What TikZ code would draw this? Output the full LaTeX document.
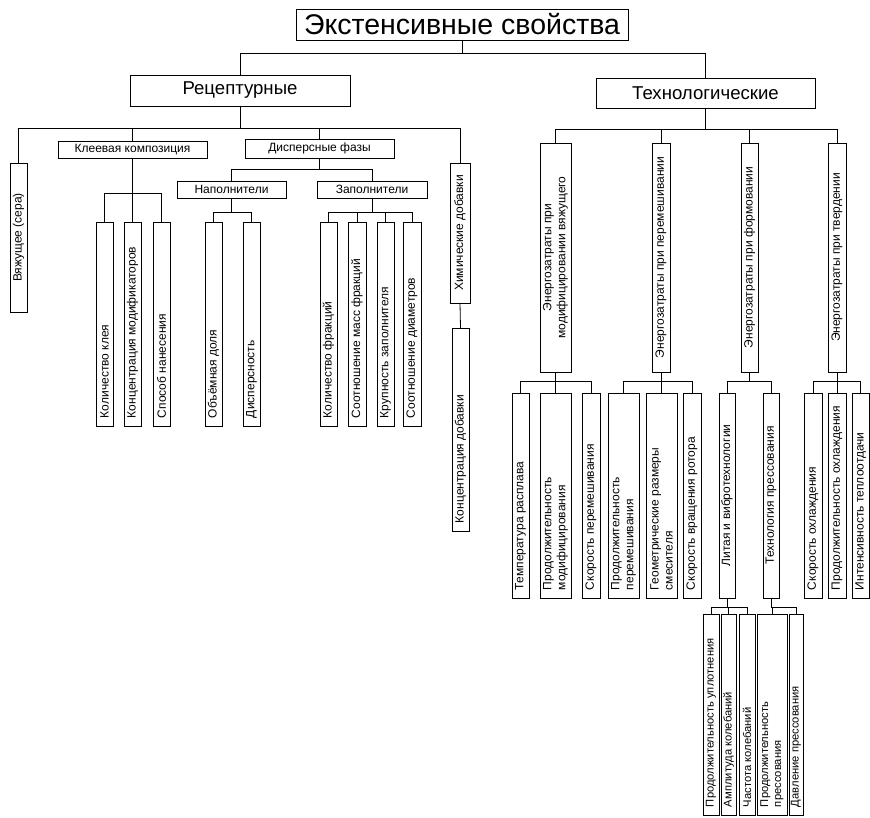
\documentclass[tikz,border=0pt]{standalone}
\usepackage{fontspec}
\setmainfont{Liberation Sans}
\usepackage{graphicx}
\newcommand{\fsS}{\fontsize{12}{14}\selectfont}
\newcommand{\fsT}{\fontsize{11.2}{13}\selectfont}
\newcommand{\bl}{\raggedright\leftskip=4pt\relax}
\newcommand{\ce}{\centering}
\newcommand{\nodeH}[7]{% name x1 y1 x2 y2 font text
  \node[bx,minimum width={(#4-#2)*1pt},minimum height={(#5-#3)*1pt}] (#1) at ({(#2+#4)/2},{(#3+#5)/2}) {#6#7};}
\newcommand{\nodeV}[8]{% name x1 y1 x2 y2 font align text
  \node[bx,minimum width={(#4-#2)*1pt},minimum height={(#5-#3)*1pt}] (#1) at ({(#2+#4)/2},{(#3+#5)/2})
   {\rotatebox{90}{\parbox{\dimexpr#5pt-#3pt-8pt\relax}{#6#7#8}}};}
\begin{document}
\begin{tikzpicture}[x=1pt,y=-1pt,
  bx/.style={draw,inner sep=0pt,outer sep=0pt,line width=0.8pt},
  ln/.style={line width=0.8pt}]
\useasboundingbox (0,0) rectangle (870,818);
% top levels
\nodeH{T}{296}{9}{628}{40}{\fontsize{28.5}{32}\selectfont}{Экстенсивные свойства}
\nodeH{R}{130}{75}{350}{106}{\fontsize{18.6}{22}\selectfont}{Рецептурные}
\nodeH{Tk}{596}{78}{815}{108}{\fontsize{18.6}{22}\selectfont}{Технологические}
% recipe branch
\nodeV{V}{10}{163}{27}{312}{\fsS}{\ce}{Вяжущее (сера)}
\nodeH{K}{58}{141}{207}{158}{\fsS}{Клеевая композиция}
\nodeH{D}{245}{139}{394}{158}{\fsS}{Дисперсные фазы}
\nodeV{Kh}{450}{163}{470}{303}{\fsS}{\ce}{Химические добавки}
\nodeV{KhC}{452}{328}{469}{531}{\fsS}{\bl}{Концентрация добавки}
\nodeV{K1}{96}{222}{113}{426}{\fsS}{\bl}{Количество клея}
\nodeV{K2}{124}{222}{141}{426}{\fsS}{\bl}{Концентрация модификаторов}
\nodeV{K3}{153}{222}{170}{426}{\fsS}{\bl}{Способ нанесения}
\nodeH{N}{177}{181}{286}{198}{\fsS}{Наполнители}
\nodeH{Z}{317}{181}{427}{198}{\fsS}{Заполнители}
\nodeV{N1}{205}{222}{222}{426}{\fsS}{\bl}{Объёмная доля}
\nodeV{N2}{243}{222}{260}{426}{\fsS}{\bl}{Дисперсность}
\nodeV{Z1}{320}{222}{337}{426}{\fsS}{\bl}{Количество фракций}
\nodeV{Z2}{348}{222}{366}{426}{\fsS}{\bl}{Соотношение масс фракций}
\nodeV{Z3}{377}{222}{394}{426}{\fsS}{\bl}{Крупность заполнителя}
\nodeV{Z4}{403}{222}{421}{426}{\fsS}{\bl}{Соотношение диаметров}
% technology branch
\nodeV{E1}{540}{143}{571}{372}{\fsS}{\ce}{Энергозатраты при\\модифицировании вяжущего}
\nodeV{E2}{652}{143}{670}{372}{\fsS}{\ce}{Энергозатраты при перемешивании}
\nodeV{E3}{741}{143}{758}{372}{\fsS}{\ce}{Энергозатраты при формовании}
\nodeV{E4}{828}{143}{846}{372}{\fsS}{\ce}{Энергозатраты при твердении}
\nodeV{E11}{512}{393}{529}{598}{\fsS}{\bl}{Температура расплава}
\nodeV{E12}{540}{393}{571}{598}{\fsS}{\bl}{Продолжительность\\модифицирования}
\nodeV{E13}{582}{393}{600}{598}{\fsS}{\bl}{Скорость перемешивания}
\nodeV{E21}{608}{393}{639}{598}{\fsS}{\bl}{Продолжительность\\перемешивания}
\nodeV{E22}{646}{393}{677}{598}{\fsS}{\bl}{Геометрические размеры\\смесителя}
\nodeV{E23}{683}{393}{701}{598}{\fsS}{\bl}{Скорость вращения ротора}
\nodeV{L}{719}{393}{735}{598}{\fsS}{\ce}{Литая и вибротехнологии}
\nodeV{P}{763}{393}{779}{598}{\fsS}{\ce}{Технология прессования}
\nodeV{E41}{804}{393}{822}{598}{\fsS}{\bl}{Скорость охлаждения}
\nodeV{E42}{828}{393}{846}{598}{\fsS}{\bl}{Продолжительность охлаждения}
\nodeV{E43}{852}{393}{869.4}{598}{\fsS}{\bl}{Интенсивность теплоотдачи}
\nodeV{L1}{703}{614}{719}{815}{\fsT}{\bl}{Продолжительность уплотнения}
\nodeV{L2}{721}{614}{736}{815}{\fsT}{\bl}{Амплитуда колебаний}
\nodeV{L3}{739}{614}{755}{815}{\fsT}{\bl}{Частота колебаний}
\nodeV{P1}{757}{614}{787}{815}{\fsT}{\bl}{Продолжительность\\прессования}
\nodeV{P2}{789}{614}{803}{815}{\fsT}{\bl}{Давление прессования}
% connectors
\foreach \c in {R,Tk} \draw[ln] (T.south) -- ++(0,13) -| (\c.north);
\foreach \c in {V,K,D,Kh} \draw[ln] (R.south) -- ++(0,22) -| (\c.north);
\draw[ln] (Kh.south) -- (KhC.north);
\foreach \c in {K1,K2,K3} \draw[ln] (K.south) -- ++(0,35) -| (\c.north);
\foreach \c in {N,Z} \draw[ln] (D.south) -- ++(0,11) -| (\c.north);
\foreach \c in {N1,N2} \draw[ln] (N.south) -- ++(0,14) -| (\c.north);
\foreach \c in {Z1,Z2,Z3,Z4} \draw[ln] (Z.south) -- ++(0,14) -| (\c.north);
\foreach \c in {E1,E2,E3,E4} \draw[ln] (Tk.south) -- ++(0,21) -| (\c.north);
\foreach \c in {E11,E12,E13} \draw[ln] (E1.south) -- ++(0,9) -| (\c.north);
\foreach \c in {E21,E22,E23} \draw[ln] (E2.south) -- ++(0,9) -| (\c.north);
\foreach \c in {L,P} \draw[ln] (E3.south) -- ++(0,9) -| (\c.north);
\foreach \c in {E41,E42,E43} \draw[ln] (E4.south) -- ++(0,9) -| (\c.north);
\foreach \c in {L1,L2,L3} \draw[ln] (L.south) -- ++(0,9) -| (\c.north);
\foreach \c in {P1,P2} \draw[ln] (P.south) -- ++(0,9) -| (\c.north);
\end{tikzpicture}
\end{document}
